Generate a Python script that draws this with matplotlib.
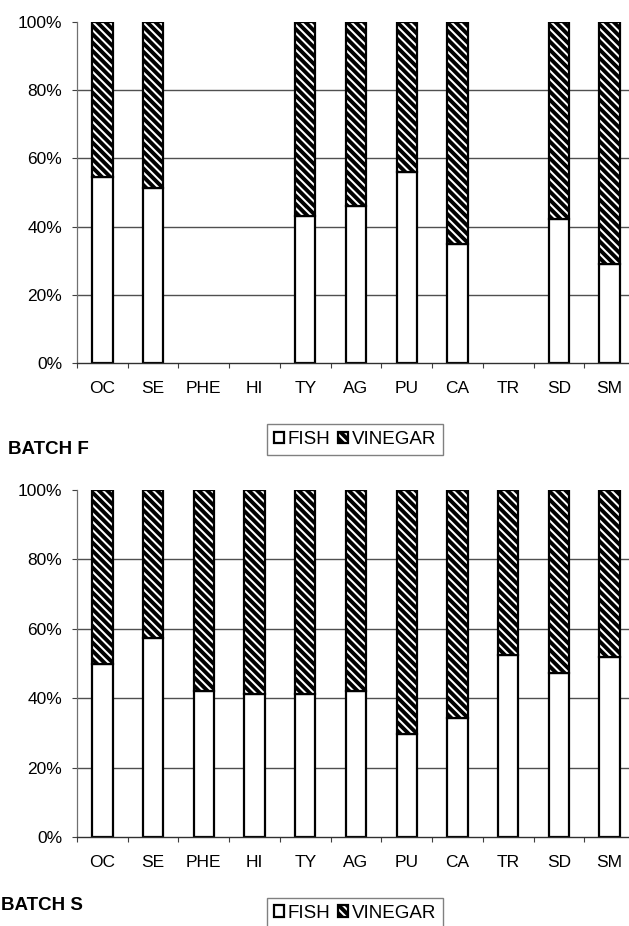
import matplotlib
matplotlib.use("Agg")
import matplotlib.pyplot as plt
import numpy as np
from typing import List, Optional

categories = ["OC", "SE", "PHE", "HI", "TY", "AG", "PU", "CA", "TR", "SD", "SM"]

# percent of fish / vinegar per compound (None = not detected)
batch_f_fish = [54.4, 51.2, None, None, 43.1, 46.1, 56.1, 34.8, None, 42.2, 29.0]
batch_f_vinegar = [45.6, 48.8, None, None, 56.9, 53.9, 43.9, 65.2, None, 57.8, 71.0]

batch_s_fish = [50.0, 57.4, 42.1, 41.2, 41.2, 42.0, 29.8, 34.3, 52.4, 47.2, 51.9]
batch_s_vinegar = [50.0, 42.6, 57.9, 58.8, 58.8, 58.0, 70.2, 65.7, 47.6, 52.8, 48.1]

y_ticks = [0, 20, 40, 60, 80, 100]
y_tick_labels = ["0%", "20%", "40%", "60%", "80%", "100%"]

series_names = ["FISH", "VINEGAR"]

plt.rcParams["font.family"] = ["Liberation Sans", "DejaVu Sans"]
plt.rcParams["hatch.linewidth"] = 2.8
plt.rcParams["hatch.color"] = "black"


def to_array(values: List[Optional[float]]) -> np.ndarray:
    return np.array([np.nan if v is None else v for v in values], dtype=float)


def draw_batch(ax, fish: List[Optional[float]], vinegar: List[Optional[float]]):
    fish_arr = to_array(fish)
    vin_arr = to_array(vinegar)
    x = np.arange(len(categories))

    for y in y_ticks[1:-1]:
        ax.axhline(y, color="#505050", linewidth=1.0, zorder=0)

    fish_bars = ax.bar(x, fish_arr, width=0.4, color="white",
                       edgecolor="black", linewidth=1.6, zorder=2,
                       label=series_names[0])
    vin_bars = ax.bar(x, vin_arr, width=0.4, bottom=fish_arr, color="white",
                      edgecolor="black", linewidth=1.6, hatch="\\\\\\\\",
                      zorder=2, label=series_names[1])

    ax.set_xlim(-0.5, len(categories) - 0.5)
    ax.set_ylim(0, 100)

    ax.set_yticks(y_ticks)
    ax.set_yticklabels(y_tick_labels, fontsize=12.5)
    ax.tick_params(axis="y", direction="out", length=3.6, width=0.8,
                   color="#404040", pad=7)

    ax.set_xticks(x)
    ax.set_xticklabels(categories, fontsize=12.5)
    ax.tick_params(axis="x", which="major", length=0, pad=13)
    ax.set_xticks(np.arange(len(categories) + 1) - 0.5, minor=True)
    ax.tick_params(axis="x", which="minor", direction="out", length=3.6,
                   width=0.8, color="#404040")

    for side in ("top", "right"):
        ax.spines[side].set_visible(False)
    ax.spines["left"].set_color("#707070")
    ax.spines["left"].set_linewidth(0.9)
    ax.spines["bottom"].set_color("#303030")
    ax.spines["bottom"].set_linewidth(1.0)
    ax.set_axisbelow(True)
    return fish_bars, vin_bars


fig = plt.figure(figsize=(6.29, 9.26), dpi=100)
W, H = 629.0, 926.0

ax_top = fig.add_axes([77 / W, 1 - 363 / H, 558 / W, 341 / H])
ax_bot = fig.add_axes([77 / W, 1 - 837 / H, 558 / W, 347 / H])

handles_f = draw_batch(ax_top, batch_f_fish, batch_f_vinegar)
handles_s = draw_batch(ax_bot, batch_s_fish, batch_s_vinegar)

fig.text(8 / W, 1 - 450 / H, "BATCH F", fontsize=13.5, fontweight="bold",
         ha="left", va="center")
fig.text(1 / W, 1 - 906 / H, "BATCH S", fontsize=13.5, fontweight="bold",
         ha="left", va="center")

for handles, cy in ((handles_f, 439.5), (handles_s, 913)):
    leg = fig.legend(handles, series_names, loc="center",
                     bbox_to_anchor=(355 / W, 1 - cy / H), ncol=2,
                     fontsize=13.5, frameon=True, fancybox=False,
                     handlelength=0.55, handleheight=0.55, handletextpad=0.2,
                     columnspacing=0.4, borderpad=0.35, borderaxespad=0)
    leg.get_frame().set_edgecolor("#606060")
    leg.get_frame().set_linewidth(1.0)

fig.savefig("out.png", dpi=100)
